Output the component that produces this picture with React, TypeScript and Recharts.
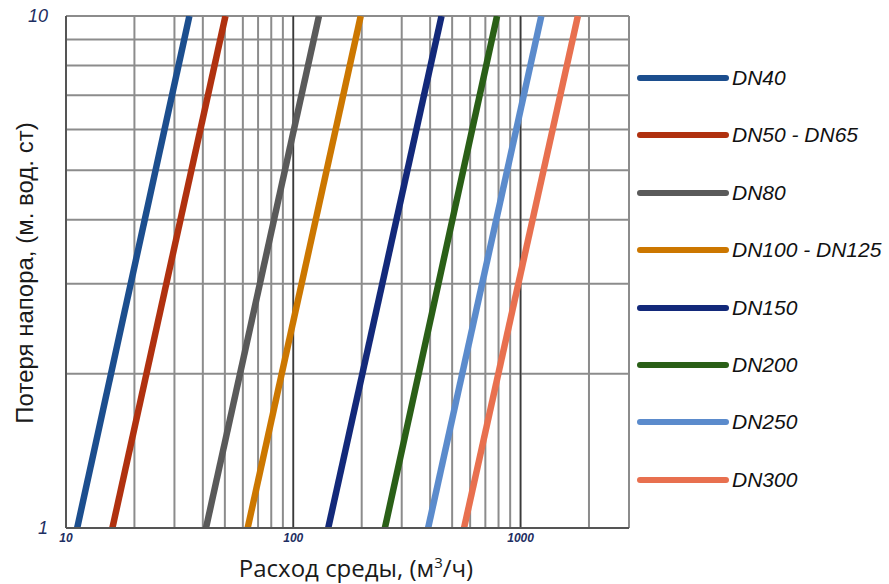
import React from 'react';
import { LineChart, Line, XAxis, YAxis, CartesianGrid } from 'recharts';

// flow rate (m3/h) at which each valve reaches 1 m and 10 m of head loss
const seriesNames = ['DN40', 'DN50 - DN65', 'DN80', 'DN100 - DN125', 'DN150', 'DN200', 'DN250', 'DN300'];
const seriesColors = ['#1c4e8e', '#b0310f', '#5a5a5a', '#cc7700', '#13297a', '#2a5f17', '#5b8bcc', '#e8704f'];
const flowAt1m = [11.2, 16.0, 41.3, 63.0, 142.5, 253, 392, 564];
const flowAt10m = [34.9, 50.3, 129.7, 198, 449, 788, 1234, 1787];
const headLoss = [1, 10];

const xTicks = [10, 20, 30, 40, 50, 60, 70, 80, 90, 100, 200, 300, 400, 500, 600, 700, 800, 900, 1000, 2000, 3000];
const xLabels = [10, 100, 1000];
const decadeLines = [100, 1000];
const yTicks = [1, 2, 3, 4, 5, 6, 7, 8, 9, 10];
const yLabels = [1, 10];

const series = seriesNames.map((name, i) => ({
  name,
  color: seriesColors[i],
  data: [
    { q: flowAt1m[i], h: headLoss[0] },
    { q: flowAt10m[i], h: headLoss[1] },
  ],
}));

const XTick = ({ x, y, payload }: any) => {
  if (!xLabels.includes(payload.value)) return null;
  return (
    <text x={x} y={y + 12} textAnchor="middle" fontSize={12} fontStyle="italic" fontWeight="bold"
      fontFamily="Liberation Sans, Arial, sans-serif" fill="#1e2e62">
      {payload.value}
    </text>
  );
};

const YTick = ({ x, y, payload }: any) => {
  if (!yLabels.includes(payload.value)) return null;
  return (
    <text x={x} y={y + 6} textAnchor="end" fontSize={18} fontStyle="italic"
      fontFamily="Liberation Sans, Arial, sans-serif" fill="#1e2e62">
      {payload.value}
    </text>
  );
};

const XTitle = () => (
  <text x={356} y={577} textAnchor="middle" fontSize={24} fontFamily="Open Sans, sans-serif" fill="#1a1a1a">
    Расход среды, (м<tspan dy={-9} fontSize={15}>3</tspan><tspan dy={9}>/ч)</tspan>
  </text>
);

const YTitle = () => (
  <text x={33} y={273} transform="rotate(-90 33 273)" textAnchor="middle" fontSize={24}
    fontFamily="Liberation Sans, Arial, sans-serif" fill="#1a1a1a">
    Потеря напора, (м. вод. ст)
  </text>
);

function Legend() {
  return (
    <div style={{ position: 'absolute', left: 637, top: 0 }}>
      {series.map((s, i) => (
        <div key={s.name} style={{ position: 'absolute', top: 78 + i * 57.4 - 15, height: 30, display: 'flex', alignItems: 'center', whiteSpace: 'nowrap' }}>
          <svg width={92} height={10}>
            <line x1={3} y1={5} x2={89} y2={5} stroke={s.color} strokeWidth={6} strokeLinecap="round" />
          </svg>
          <span style={{ marginLeft: 3, fontFamily: 'Liberation Sans, Arial, sans-serif', fontStyle: 'italic', fontSize: 21, color: '#111' }}>
            {s.name}
          </span>
        </div>
      ))}
    </div>
  );
}

export default function App() {
  return (
    <div style={{ position: 'absolute', left: 0, top: 0, width: 889, height: 584, background: '#fff' }}>
      <LineChart width={889} height={584} margin={{ top: 16, right: 260, bottom: 0, left: 0 }}>
        <CartesianGrid stroke="#8c8c8c" strokeWidth={2} />
        <CartesianGrid stroke="#3a3a3a" strokeWidth={1.5} horizontal={false} verticalValues={decadeLines} />
        <XAxis
          dataKey="q"
          type="number"
          scale="log"
          domain={[10, 3000]}
          ticks={xTicks}
          allowDataOverflow
          height={56}
          tickSize={0}
          tickLine={false}
          axisLine={{ stroke: '#555', strokeWidth: 2 }}
          tick={<XTick />}
          interval={0}
          label={{ content: <XTitle /> }}
        />
        <YAxis
          dataKey="h"
          type="number"
          scale="log"
          domain={[1, 10]}
          ticks={yTicks}
          allowDataOverflow
          width={66}
          tickSize={0}
          tickMargin={18}
          tickLine={false}
          axisLine={{ stroke: '#555', strokeWidth: 2 }}
          tick={<YTick />}
          interval={0}
          label={{ content: <YTitle /> }}
        />
        {series.map((s) => (
          <Line
            key={s.name}
            data={s.data}
            dataKey="h"
            name={s.name}
            stroke={s.color}
            strokeWidth={6.5}
            strokeLinecap="butt"
            dot={false}
            activeDot={false}
            isAnimationActive={false}
          />
        ))}
      </LineChart>
      <Legend />
    </div>
  );
}
